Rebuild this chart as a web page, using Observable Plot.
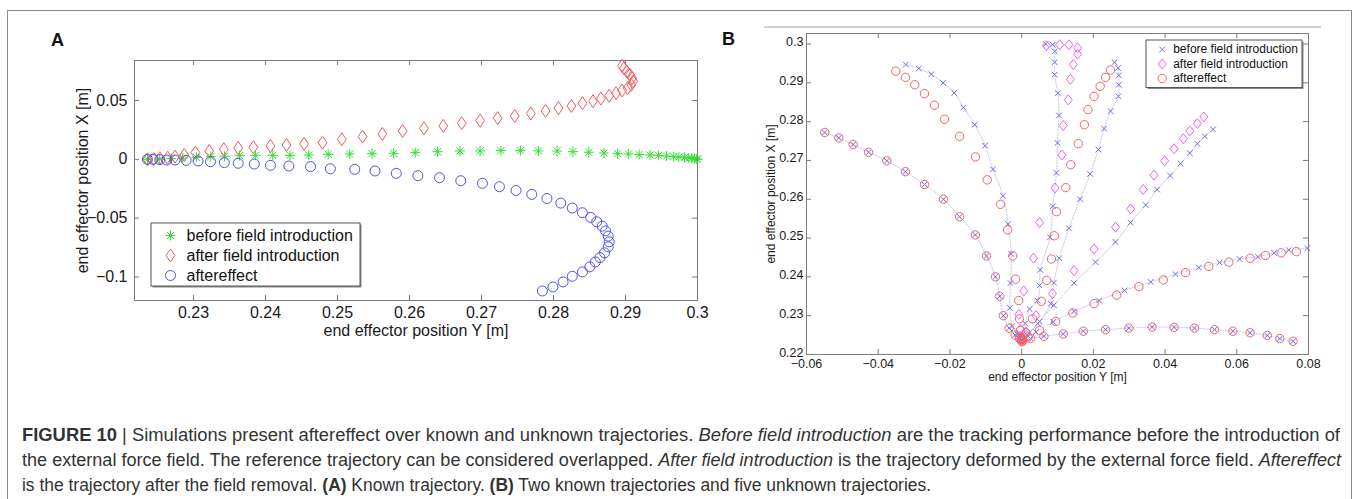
<!DOCTYPE html>
<html>
<head>
<meta charset="utf-8">
<script src="https://cdn.jsdelivr.net/npm/d3@7"></script>
<script src="https://cdn.jsdelivr.net/npm/@observablehq/plot@0.6"></script>
<style>
  html, body { margin: 0; padding: 0; background: #fff; }
  body { width: 1360px; height: 499px; overflow: hidden; font-family: "Liberation Sans", Arial, sans-serif; }
  #wrap { position: relative; width: 1360px; height: 499px; }
  #border { position: absolute; left: 7px; top: 10px; width: 1345px; height: 560px; border: 1.5px solid #8c8c8c; border-bottom: none; box-sizing: border-box; }
  #pa { position: absolute; left: 0; top: 0; }
  #pb { position: absolute; left: 720px; top: 0; }
  #gline { position: absolute; left: 764px; top: 25.5px; width: 557px; height: 2px; background: #d2d2d2; }
  .letter { position: absolute; font-weight: bold; font-size: 18px; color: #111; line-height: 1; }
  #cap { position: absolute; left: 22px; top: 423px; color: #333; font-family: "Liberation Sans", Arial, sans-serif; font-size: 17.5px; }
  #cap .ln { display: block; height: 25px; line-height: 25px; }
  #cap .ln span.in { display: inline-block; white-space: nowrap; transform-origin: 0 50%; }
</style>
</head>
<body>
<div id="wrap">
  <div id="border"></div>
  <div id="gline"></div>
  <div id="pa"></div>
  <div id="pb"></div>
  <div class="letter" style="left:51px; top:31px;">A</div>
  <div class="letter" style="left:722px; top:30px;">B</div>
  <div id="cap">
    <div class="ln"><span class="in" data-w="1318"><b>FIGURE 10</b> | Simulations present aftereffect over known and unknown trajectories. <i>Before field introduction</i> are the tracking performance before the introduction of</span></div>
    <div class="ln"><span class="in" data-w="1319">the external force field. The reference trajectory can be considered overlapped. <i>After field introduction</i> is the trajectory deformed by the external force field. <i>Aftereffect</i></span></div>
    <div class="ln"><span class="in" data-w="909">is the trajectory after the field removal. <b>(A)</b> Known trajectory. <b>(B)</b> Two known trajectories and five unknown trajectories.</span></div>
  </div>
</div>
<script>
// ---------------- Panel A data (horizontal = end effector position Y, vertical = end effector position X) ----------------
const aSeries = ["before field introduction", "after field introduction", "aftereffect"];
const aXTicks = [0.23, 0.24, 0.25, 0.26, 0.27, 0.28, 0.29, 0.3];
const aYTicks = [-0.1, -0.05, 0, 0.05];

const aBeforeH = [0.2236, 0.2253, 0.2269, 0.2285, 0.2304, 0.2324, 0.2343, 0.2364, 0.2386, 0.2410, 0.2434, 0.2460, 0.2487, 0.2517, 0.2548, 0.2578, 0.2608, 0.2639, 0.2670, 0.2698, 0.2727, 0.2754, 0.2779, 0.2805, 0.2827, 0.2849, 0.2870, 0.2889, 0.2904, 0.2919, 0.2934, 0.2946, 0.2957, 0.2967, 0.2974, 0.2982, 0.2988, 0.2992, 0.2996, 0.2999, 0.3000];
const aBeforeV = [0, 0.0003, 0.0006, 0.0011, 0.0017, 0.0023, 0.0026, 0.0031, 0.0034, 0.0034, 0.0034, 0.0037, 0.0043, 0.0045, 0.0048, 0.0051, 0.0057, 0.0065, 0.0071, 0.0071, 0.0074, 0.0074, 0.0071, 0.0071, 0.0065, 0.0060, 0.0054, 0.0048, 0.0045, 0.0040, 0.0037, 0.0034, 0.0028, 0.0023, 0.0020, 0.0017, 0.0011, 0.0009, 0.0006, 0.0003, 0.0000];

const aAfterH = [0.22359, 0.22448, 0.22532, 0.22641, 0.22743, 0.22871, 0.23025, 0.23217, 0.23421, 0.23620, 0.23831, 0.24068, 0.24292, 0.24535, 0.24791, 0.25060, 0.25348, 0.25623, 0.25905, 0.26200, 0.26469, 0.26725, 0.26981, 0.27224, 0.27461, 0.27685, 0.27890, 0.28069, 0.28248, 0.28402, 0.28549, 0.28658, 0.28773, 0.28869, 0.28952, 0.29029, 0.29080, 0.29106, 0.29093, 0.29061, 0.29016, 0.28978, 0.28952];
const aAfterV = [0, 0.0003, 0.0009, 0.0014, 0.0023, 0.0037, 0.0057, 0.0071, 0.0085, 0.0097, 0.0102, 0.0114, 0.0122, 0.0131, 0.0142, 0.0170, 0.0193, 0.0216, 0.0241, 0.0264, 0.0284, 0.0307, 0.0329, 0.0350, 0.0368, 0.0390, 0.0412, 0.0435, 0.0454, 0.0477, 0.0494, 0.0517, 0.0540, 0.0562, 0.0585, 0.0605, 0.0633, 0.0662, 0.0690, 0.0719, 0.0747, 0.0775, 0.0795];

const aEffectH = [0.22359, 0.22436, 0.22532, 0.22628, 0.22743, 0.22897, 0.23063, 0.23236, 0.23428, 0.23620, 0.23844, 0.24068, 0.24324, 0.24625, 0.24900, 0.25239, 0.25521, 0.25816, 0.26116, 0.26417, 0.26712, 0.27013, 0.27249, 0.27480, 0.27698, 0.27909, 0.28101, 0.28261, 0.28402, 0.28517, 0.28600, 0.28677, 0.28722, 0.28760, 0.28773, 0.28760, 0.28709, 0.28645, 0.28581, 0.28504, 0.28402, 0.28261, 0.28133, 0.27992, 0.27845];
const aEffectV = [0, 0, -0.0003, -0.0006, -0.0006, -0.0009, -0.0014, -0.0020, -0.0028, -0.0034, -0.0040, -0.0051, -0.0057, -0.0062, -0.0080, -0.0085, -0.0099, -0.0119, -0.0139, -0.0156, -0.0182, -0.0204, -0.0233, -0.0265, -0.0298, -0.0333, -0.0372, -0.0414, -0.0454, -0.0494, -0.0531, -0.0568, -0.0608, -0.0653, -0.0701, -0.0744, -0.0795, -0.0835, -0.0872, -0.0914, -0.0957, -0.0994, -0.1042, -0.1085, -0.1119];

// ---------------- Panel B data: [trajectory, position Y, position X] ----------------
const bXTicks = [-0.06, -0.04, -0.02, 0, 0.02, 0.04, 0.06, 0.08];
const bYTicks = [0.22, 0.23, 0.24, 0.25, 0.26, 0.27, 0.28, 0.29, 0.3];

const bBefore = [
  [1,-0.0549,0.2772],[1,-0.0510,0.2758],[1,-0.0470,0.2741],[1,-0.0427,0.2721],[1,-0.0376,0.2699],[1,-0.0324,0.2671],[1,-0.0271,0.2638],[1,-0.0218,0.2600],[1,-0.0173,0.2555],[1,-0.0129,0.2508],[1,-0.0098,0.2454],[1,-0.0073,0.2400],[1,-0.0061,0.2350],[1,-0.0051,0.2300],[1,-0.0035,0.2268],[1,-0.0018,0.2250],[1,-0.0006,0.2241],[1,0,0.2237],
  [2,-0.0323,0.2947],[2,-0.0287,0.2937],[2,-0.0252,0.2922],[2,-0.0219,0.2900],[2,-0.0188,0.2874],[2,-0.0162,0.2836],[2,-0.0131,0.2792],[2,-0.0102,0.2738],[2,-0.0080,0.2677],[2,-0.0052,0.2609],[2,-0.0038,0.2536],[2,-0.0029,0.2459],[2,-0.0031,0.2384],[2,-0.0033,0.2320],[2,-0.0026,0.2273],[2,-0.0012,0.2252],[2,0,0.2238],
  [3,0.0067,0.3000],[3,0.0087,0.2998],[3,0.0092,0.2981],[3,0.0092,0.2953],[3,0.0092,0.2921],[3,0.0101,0.2873],[3,0.0104,0.2816],[3,0.0100,0.2745],[3,0.0097,0.2668],[3,0.0087,0.2582],[3,0.0079,0.2502],[3,0.0052,0.2418],[3,0.0050,0.2378],[3,0.0044,0.2339],[3,0.0022,0.2317],[3,0.0010,0.2280],[3,0.0003,0.2252],[3,0,0.2238],
  [4,0.0259,0.2953],[4,0.0269,0.2938],[4,0.0271,0.2919],[4,0.0271,0.2895],[4,0.0270,0.2865],[4,0.0248,0.2827],[4,0.0230,0.2782],[4,0.0214,0.2728],[4,0.0191,0.2665],[4,0.0163,0.2600],[4,0.0132,0.2525],[4,0.0105,0.2448],[4,0.0090,0.2385],[4,0.0081,0.2331],[4,0.0050,0.2285],[4,0.0020,0.2255],[4,0,0.2238],
  [5,0.0534,0.2780],[5,0.0511,0.2762],[5,0.0490,0.2743],[5,0.0469,0.2719],[5,0.0443,0.2692],[5,0.0414,0.2661],[5,0.0378,0.2625],[5,0.0346,0.2585],[5,0.0304,0.2540],[5,0.0262,0.2490],[5,0.0206,0.2438],[5,0.0146,0.2384],[5,0.0090,0.2327],[5,0.0045,0.2280],[5,0.0015,0.2250],[5,0,0.2238],
  [6,0.0797,0.2474],[6,0.0745,0.2469],[6,0.0704,0.2462],[6,0.0659,0.2452],[6,0.0608,0.2446],[6,0.0552,0.2437],[6,0.0494,0.2424],[6,0.0429,0.2407],[6,0.0360,0.2387],[6,0.0287,0.2365],[6,0.0216,0.2339],[6,0.0146,0.2311],[6,0.0088,0.2284],[6,0.0040,0.2258],[6,0.0012,0.2243],[6,0,0.2238],
  [7,0.0757,0.2234],[7,0.0720,0.2241],[7,0.0685,0.2249],[7,0.0637,0.2256],[7,0.0589,0.2260],[7,0.0538,0.2264],[7,0.0482,0.2268],[7,0.0425,0.2270],[7,0.0364,0.2271],[7,0.0299,0.2268],[7,0.0234,0.2264],[7,0.0172,0.2260],[7,0.0116,0.2253],[7,0.0062,0.2247],[7,0.0025,0.2241],[7,0,0.2238]
];

const bAfter = [
  [3,0.0069,0.2996],[3,0.0106,0.2998],[3,0.0132,0.2998],[3,0.0156,0.2990],[3,0.0156,0.2974],[3,0.0144,0.2947],[3,0.0136,0.2909],[3,0.0130,0.2856],[3,0.0116,0.2790],[3,0.0112,0.2714],[3,0.0093,0.2629],[3,0.0050,0.2540],[3,0.0033,0.2448],[3,0.0006,0.2364],[3,-0.0008,0.2303],[3,-0.0004,0.2265],[3,0,0.2245],
  [5,0.0508,0.2812],[5,0.0490,0.2795],[5,0.0469,0.2776],[5,0.0451,0.2756],[5,0.0425,0.2730],[5,0.0399,0.2699],[5,0.0369,0.2662],[5,0.0339,0.2625],[5,0.0304,0.2575],[5,0.0262,0.2528],[5,0.0202,0.2472],[5,0.0146,0.2416],[5,0.0086,0.2357],[5,0.0040,0.2300],[5,0.0012,0.2258],[5,0,0.2242]
];

const bEffect = [
  [1,-0.0549,0.2772],[1,-0.0510,0.2758],[1,-0.0470,0.2741],[1,-0.0427,0.2721],[1,-0.0376,0.2699],[1,-0.0324,0.2671],[1,-0.0271,0.2638],[1,-0.0218,0.2600],[1,-0.0173,0.2555],[1,-0.0129,0.2508],[1,-0.0098,0.2454],[1,-0.0073,0.2400],[1,-0.0061,0.2350],[1,-0.0051,0.2300],[1,-0.0035,0.2268],[1,-0.0018,0.2250],[1,-0.0006,0.2241],[1,0,0.2237],
  [2,-0.0351,0.2930],[2,-0.0324,0.2914],[2,-0.0298,0.2895],[2,-0.0271,0.2872],[2,-0.0243,0.2842],[2,-0.0215,0.2806],[2,-0.0173,0.2762],[2,-0.0129,0.2709],[2,-0.0096,0.2650],[2,-0.0059,0.2587],[2,-0.0039,0.2521],[2,-0.0025,0.2454],[2,-0.0017,0.2394],[2,-0.0008,0.2339],[2,-0.0006,0.2292],[2,-0.0003,0.2262],[2,0,0.2242],
  [4,0.0248,0.2933],[4,0.0234,0.2914],[4,0.0219,0.2891],[4,0.0202,0.2865],[4,0.0185,0.2831],[4,0.0175,0.2792],[4,0.0158,0.2743],[4,0.0137,0.2689],[4,0.0123,0.2630],[4,0.0097,0.2568],[4,0.0091,0.2506],[4,0.0083,0.2446],[4,0.0070,0.2391],[4,0.0055,0.2337],[4,0.0030,0.2292],[4,0.0012,0.2256],[4,0,0.2240],
  [6,0.0766,0.2465],[6,0.0724,0.2462],[6,0.0680,0.2455],[6,0.0637,0.2448],[6,0.0578,0.2438],[6,0.0522,0.2427],[6,0.0457,0.2411],[6,0.0395,0.2392],[6,0.0327,0.2375],[6,0.0265,0.2353],[6,0.0202,0.2331],[6,0.0143,0.2307],[6,0.0095,0.2285],[6,0.0050,0.2262],[6,0.0018,0.2245],[6,0,0.2238],
  [7,0.0757,0.2234],[7,0.0720,0.2241],[7,0.0685,0.2249],[7,0.0637,0.2256],[7,0.0589,0.2260],[7,0.0538,0.2264],[7,0.0482,0.2268],[7,0.0425,0.2270],[7,0.0364,0.2271],[7,0.0299,0.2268],[7,0.0234,0.2264],[7,0.0172,0.2260],[7,0.0116,0.2253],[7,0.0062,0.2247],[7,0.0025,0.2241],[7,0,0.2238],
  [0,0.0002,0.2235],[0,-0.0002,0.2239],[0,0.0001,0.2233]
];

// ---------------- helpers ----------------
const fmt = d => d3.format("~g")(+(+d).toFixed(4));
const toRows = (h, v) => h.map((d, i) => ({h: d, v: v[i]}));
const tupleRows = arr => arr.map(([t, h, v]) => ({t, h, v}));

const symAsterisk = {draw(c, s) { const r = Math.sqrt(s / Math.PI), d = r * 0.72;
  c.moveTo(-r, 0); c.lineTo(r, 0); c.moveTo(0, -r); c.lineTo(0, r);
  c.moveTo(-d, -d); c.lineTo(d, d); c.moveTo(-d, d); c.lineTo(d, -d); }};
const diamond = (wk, hk) => ({draw(c, s) { const r = Math.sqrt(s / Math.PI);
  c.moveTo(0, -r * hk); c.lineTo(r * wk, 0); c.lineTo(0, r * hk); c.lineTo(-r * wk, 0); c.closePath(); }});
const symTimes = {draw(c, s) { const r = Math.sqrt(s / Math.PI);
  c.moveTo(-r, -r); c.lineTo(r, r); c.moveTo(-r, r); c.lineTo(r, -r); }};

const frameColor = "#7c7c7c";

// ---------------- Panel A ----------------
{
  const W = 720, H = 345, mt = 60, ml = 134, mr = 23, mb = 45;
  const iw = W - ml - mr, ih = H - mt - mb;
  const cG = "#2fe02f", cR = "#f25a5a", cB = "#5050ee";
  const symD = diamond(0.85, 1.25);
  const legSyms = [symAsterisk, symD, "circle"], legCols = [cG, cR, cB], legR = [5, 5.2, 5];
  const legMarks = [];
  aSeries.forEach((name, i) => {
    legMarks.push(Plot.dot([name], {frameAnchor: "bottom-left", dx: 36, dy: -65 + 20 * i, symbol: legSyms[i], r: legR[i], stroke: legCols[i], fill: "none", strokeWidth: 1}));
    legMarks.push(Plot.text([name], {text: d => d, frameAnchor: "bottom-left", dx: 52, dy: -65 + 20 * i, textAnchor: "start", lineAnchor: "middle", fontSize: 16, fill: "#111"}));
  });
  const plotA = Plot.plot({
    width: W, height: H, marginTop: mt, marginLeft: ml, marginRight: mr, marginBottom: mb,
    style: {fontFamily: "'Liberation Sans', Arial, sans-serif", fontSize: "16px", color: "#1a1a1a", background: "transparent", overflow: "visible"},
    x: {domain: [0.2218, 0.3]},
    y: {domain: [-0.12, 0.084]},
    marks: [
      Plot.axisX({ticks: aXTicks, tickSize: 0, tickPadding: 6, tickFormat: fmt, label: null}),
      Plot.axisY({ticks: aYTicks, tickSize: 0, tickPadding: 7, tickFormat: fmt, label: null}),
      Plot.tickX(aXTicks, {x: d => d, insetTop: ih - 5, stroke: frameColor}),
      Plot.tickX(aXTicks, {x: d => d, insetBottom: ih - 5, stroke: frameColor}),
      Plot.tickY(aYTicks, {y: d => d, insetRight: iw - 5, stroke: frameColor}),
      Plot.tickY(aYTicks, {y: d => d, insetLeft: iw - 5, stroke: frameColor}),
      Plot.dot(toRows(aBeforeH, aBeforeV), {x: "h", y: "v", symbol: symAsterisk, r: 5, stroke: cG, fill: "none", strokeWidth: 1}),
      Plot.dot(toRows(aAfterH, aAfterV), {x: "h", y: "v", symbol: symD, r: 5.2, stroke: cR, fill: "none", strokeWidth: 1}),
      Plot.dot(toRows(aEffectH, aEffectV), {x: "h", y: "v", symbol: "circle", r: 5, stroke: cB, fill: "none", strokeWidth: 1}),
      Plot.frame({stroke: frameColor}),
      Plot.text(["end effector position Y [m]"], {text: d => d, frameAnchor: "bottom", dy: 30, lineAnchor: "middle", textAnchor: "middle", fontSize: 16, fill: "#1a1a1a"}),
      Plot.text(["end effector position X [m]"], {text: d => d, frameAnchor: "left", dx: -52, rotate: -90, lineAnchor: "middle", textAnchor: "middle", fontSize: 16, fill: "#1a1a1a"}),
      // legend box
      Plot.rect([0], {insetLeft: 17, insetRight: 337, insetTop: 163, insetBottom: 14, dx: 1.5, dy: 1.5, fill: "#8a8a8a"}),
      Plot.rect([0], {insetLeft: 17, insetRight: 337, insetTop: 163, insetBottom: 14, fill: "white", stroke: "#555", strokeWidth: 1}),
      ...legMarks
    ]
  });
  document.getElementById("pa").append(plotA);
}

// ---------------- Panel B ----------------
{
  const W = 640, H = 390, mt = 33, ml = 86, mr = 52, mb = 36;
  const iw = W - ml - mr, ih = H - mt - mb;
  const cB = "#6c6cf0", cM = "#f060f0", cR = "#f26464";
  const symD = diamond(1.0, 1.25);
  const legSyms = [symTimes, symD, "circle"], legCols = [cB, cM, cR], legR = [2.8, 4, 4.2];
  const legMarks = [];
  aSeries.forEach((name, i) => {
    legMarks.push(Plot.dot([name], {frameAnchor: "top-left", dx: 355.7, dy: 16 + 14.5 * i, symbol: legSyms[i], r: legR[i], stroke: legCols[i], fill: "none", strokeWidth: 1}));
    legMarks.push(Plot.text([name], {text: d => d, frameAnchor: "top-left", dx: 366.7, dy: 16 + 14.5 * i, textAnchor: "start", lineAnchor: "middle", fontSize: 12, fill: "#111"}));
  });
  const plotB = Plot.plot({
    width: W, height: H, marginTop: mt, marginLeft: ml, marginRight: mr, marginBottom: mb,
    style: {fontFamily: "'Liberation Sans', Arial, sans-serif", fontSize: "12.5px", color: "#1a1a1a", background: "transparent", overflow: "visible"},
    x: {domain: [-0.06, 0.08]},
    y: {domain: [0.22, 0.3027]},
    marks: [
      Plot.axisX({ticks: bXTicks, tickSize: 0, tickPadding: 5, tickFormat: fmt, label: null}),
      Plot.axisY({ticks: bYTicks, tickSize: 0, tickPadding: 3, dy: -2, tickFormat: fmt, label: null}),
      Plot.tickX(bXTicks, {x: d => d, insetTop: ih - 5, stroke: frameColor}),
      Plot.tickX(bXTicks, {x: d => d, insetBottom: ih - 5, stroke: frameColor}),
      Plot.tickY(bYTicks, {y: d => d, insetRight: iw - 5, stroke: frameColor}),
      Plot.tickY(bYTicks, {y: d => d, insetLeft: iw - 5, stroke: frameColor}),
      Plot.line(tupleRows(bBefore), {x: "h", y: "v", z: "t", stroke: "#c2c2ee", strokeWidth: 1, strokeDasharray: "1.2,1.6", curve: "catmull-rom"}),
      Plot.dot(tupleRows(bBefore), {x: "h", y: "v", symbol: symTimes, r: 2.8, stroke: cB, fill: "none", strokeWidth: 1}),
      Plot.dot(tupleRows(bAfter), {x: "h", y: "v", symbol: symD, r: 4, stroke: cM, fill: "none", strokeWidth: 1}),
      Plot.dot(tupleRows(bEffect), {x: "h", y: "v", symbol: "circle", r: 4.2, stroke: cR, fill: "none", strokeWidth: 1}),
      Plot.frame({stroke: frameColor}),
      Plot.text(["end effector position Y [m]"], {text: d => d, frameAnchor: "bottom", dy: 23, lineAnchor: "middle", textAnchor: "middle", fontSize: 12, fill: "#1a1a1a"}),
      Plot.text(["end effector position X [m]"], {text: d => d, frameAnchor: "left", dx: -35, rotate: -90, lineAnchor: "middle", textAnchor: "middle", fontSize: 12, fill: "#1a1a1a"}),
      Plot.rect([0], {insetLeft: 340, insetRight: 6, insetTop: 7, insetBottom: 266.5, dx: 1.5, dy: 1.5, fill: "#8a8a8a"}),
      Plot.rect([0], {insetLeft: 340, insetRight: 6, insetTop: 7, insetBottom: 266.5, fill: "white", stroke: "#555", strokeWidth: 1}),
      ...legMarks
    ]
  });
  document.getElementById("pb").append(plotB);
}

// ---------------- caption: fit each line to the width it has in the figure ----------------
document.querySelectorAll("#cap span.in").forEach(el => {
  const w = el.getBoundingClientRect().width;
  const target = +el.dataset.w;
  el.style.transform = `scaleX(${(target / w).toFixed(4)})`;
});
</script>
</body>
</html>
